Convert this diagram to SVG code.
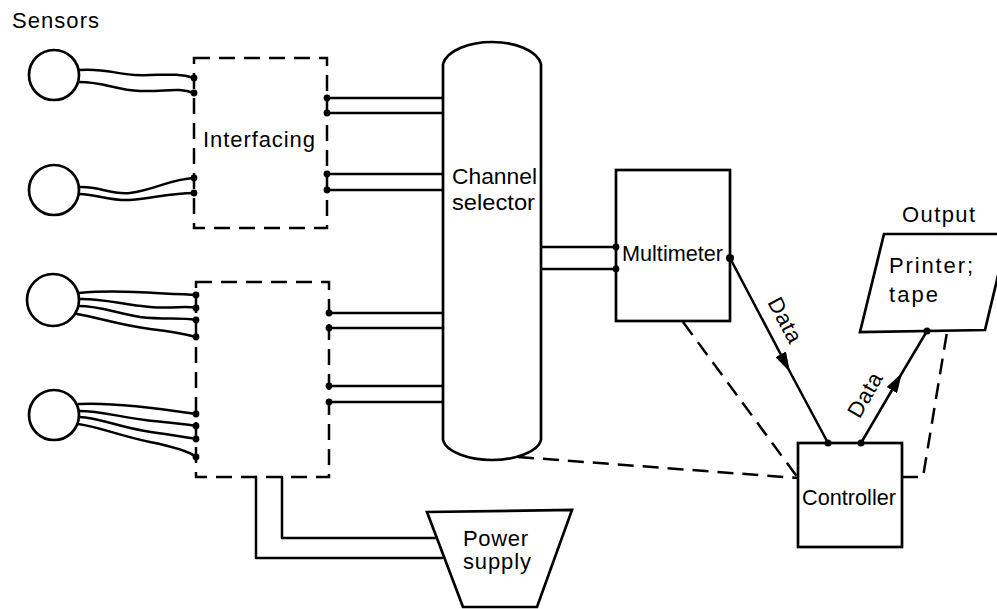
<svg xmlns="http://www.w3.org/2000/svg" width="997" height="609" viewBox="0 0 997 609">
<style>
.ln{fill:none;stroke:#000;stroke-width:2.5;stroke-linejoin:round;stroke-linecap:round}
.dash{fill:none;stroke:#000;stroke-width:2.5;stroke-dasharray:16 9}
.box{fill:#fff;stroke:#000;stroke-width:2.7}
.dot{fill:#000}
text{font-family:"Liberation Sans",Arial,sans-serif;font-size:22px;fill:#000}
</style>
<defs>
<marker id="ah" viewBox="0 0 20 12" refX="20" refY="6" markerWidth="20" markerHeight="12" markerUnits="userSpaceOnUse" orient="auto">
<path d="M0,0 L20,6 L0,12 Z" fill="#000"/>
</marker>
</defs>
<rect width="997" height="609" fill="#fff"/>
<text x="12" y="28" font-size="21" textLength="87">Sensors</text>

<g id="sensor1"><circle class="box" cx="54" cy="75" r="25"/></g>
<g id="sensor2"><circle class="box" cx="54" cy="190" r="25"/></g>
<g id="sensor3"><circle class="box" cx="53" cy="300" r="26"/></g>
<g id="sensor4"><circle class="box" cx="54" cy="415" r="25"/></g>

<g id="interfacing1">
<rect class="dash" x="194" y="58" width="133" height="170"/>
<text x="203" y="147" font-size="24" textLength="112">Interfacing</text>
</g>
<g id="interfacing2">
<rect class="dash" x="196" y="282" width="133" height="195"/>
</g>

<g id="channel-selector">
<path class="box" d="M443,440 V64 C447,50 470,42 492,42 C514,42 537,50 541,64 V440 C538,452 515,460 492,460 C469,460 446,452 443,440 Z"/>
<text x="452" y="184" font-size="24" textLength="85" lengthAdjust="spacingAndGlyphs">Channel</text>
<text x="452" y="210" font-size="24" textLength="83" lengthAdjust="spacingAndGlyphs">selector</text>
</g>

<g id="multimeter">
<rect class="box" x="616" y="170" width="114" height="151"/>
<text x="622" y="261" font-size="22" textLength="101" lengthAdjust="spacingAndGlyphs">Multimeter</text>
</g>

<g id="controller">
<rect class="box" x="798" y="443" width="104" height="104"/>
<text x="802" y="505" font-size="23" textLength="94" lengthAdjust="spacingAndGlyphs">Controller</text>
</g>

<g id="output">
<text x="902" y="222" font-size="23" textLength="73">Output</text>
<polygon class="box" points="884,234 1008,234 985,330 860,332"/>
<text x="889" y="273" font-size="23" textLength="84">Printer;</text>
<text x="889" y="302" font-size="23" textLength="49">tape</text>
</g>

<g id="power-supply">
<polygon class="box" points="427,512 572,510 537,607 463,607"/>
<text x="463" y="546" font-size="20.5" textLength="65">Power</text>
<text x="463" y="569" font-size="20.5" textLength="68">supply</text>
</g>

<g id="connectors">
<path class="ln" d="M79,70 C105,68 115,74 135,75 C160,76 175,72 194,78"/>
<path class="ln" d="M79,82 C105,82 115,90 140,91 C165,92 178,87 194,93"/>
<path class="ln" d="M79,187 C100,186 110,195 130,193 C155,190 170,179 194,178"/>
<path class="ln" d="M79,194 C100,195 110,201 130,200 C155,198 170,193 194,193"/>

<path class="ln" d="M79,293 C110,290 140,292 196,295"/>
<path class="ln" d="M79,299 C100,298 120,304 150,307 C175,309 185,305 196,308"/>
<path class="ln" d="M79,306 C100,306 115,313 140,317 C165,320 180,317 196,320"/>
<path class="ln" d="M77,314 C100,318 120,325 150,329 C175,332 185,334 196,337"/>

<path class="ln" d="M79,404 C110,402 150,407 196,414"/>
<path class="ln" d="M79,411 C100,411 115,416 145,420 C170,423 185,424 196,426"/>
<path class="ln" d="M79,417 C100,418 115,426 145,431 C170,435 185,437 196,439"/>
<path class="ln" d="M78,424 C100,427 120,436 150,442 C175,447 190,452 196,457"/>

<g class="dot">
<circle cx="194" cy="78" r="3.4"/><circle cx="194" cy="93" r="3.4"/>
<circle cx="194" cy="178" r="3.4"/><circle cx="194" cy="193" r="3.4"/>
<circle cx="196" cy="295" r="3.4"/><circle cx="196" cy="308" r="3.4"/>
<circle cx="196" cy="320" r="3.4"/><circle cx="196" cy="337" r="3.4"/>
<circle cx="196" cy="414" r="3.4"/><circle cx="196" cy="426" r="3.4"/>
<circle cx="196" cy="439" r="3.4"/><circle cx="196" cy="457" r="3.4"/>
<circle cx="327" cy="98" r="3.4"/><circle cx="327" cy="113" r="3.4"/>
<circle cx="327" cy="174" r="3.4"/><circle cx="327" cy="190" r="3.4"/>
<circle cx="329" cy="313" r="3.4"/><circle cx="329" cy="328" r="3.4"/>
<circle cx="329" cy="386" r="3.4"/><circle cx="329" cy="402" r="3.4"/>
<circle cx="616" cy="247" r="3.4"/><circle cx="616" cy="269" r="3.4"/>
<circle cx="730" cy="258" r="4"/>
<circle cx="828" cy="443" r="3.5"/><circle cx="861" cy="443" r="3.5"/>
<circle cx="927" cy="331" r="3.5"/>
</g>

<path class="ln" d="M327,98 H443 M327,113 H443 M327,174 H443 M327,190 H443"/>
<path class="ln" d="M329,313 H443 M329,328 H443 M329,386 H443 M329,402 H443"/>
<path class="ln" d="M542,247 H616 M542,269 H616"/>
<path class="ln" d="M256,477 V558 H442"/>
<path class="ln" d="M282,477 V538 H435"/>
<path class="ln" d="M730,258 L790,372 L828,443" marker-mid="url(#ah)"/>
<path class="ln" d="M861,443 L902,373 L927,331" marker-mid="url(#ah)"/>
<text transform="translate(785,320) rotate(62)" text-anchor="middle" dominant-baseline="central" font-size="21" textLength="48">Data</text>
<text transform="translate(865,395) rotate(-60)" text-anchor="middle" dominant-baseline="central" font-size="21" textLength="48">Data</text>
<path class="dash" d="M683,322 L798,478"/>
<path class="dash" d="M518,457 L798,478"/>
<path class="dash" d="M902,477 H923 L947,332"/>
</g>
</svg>
